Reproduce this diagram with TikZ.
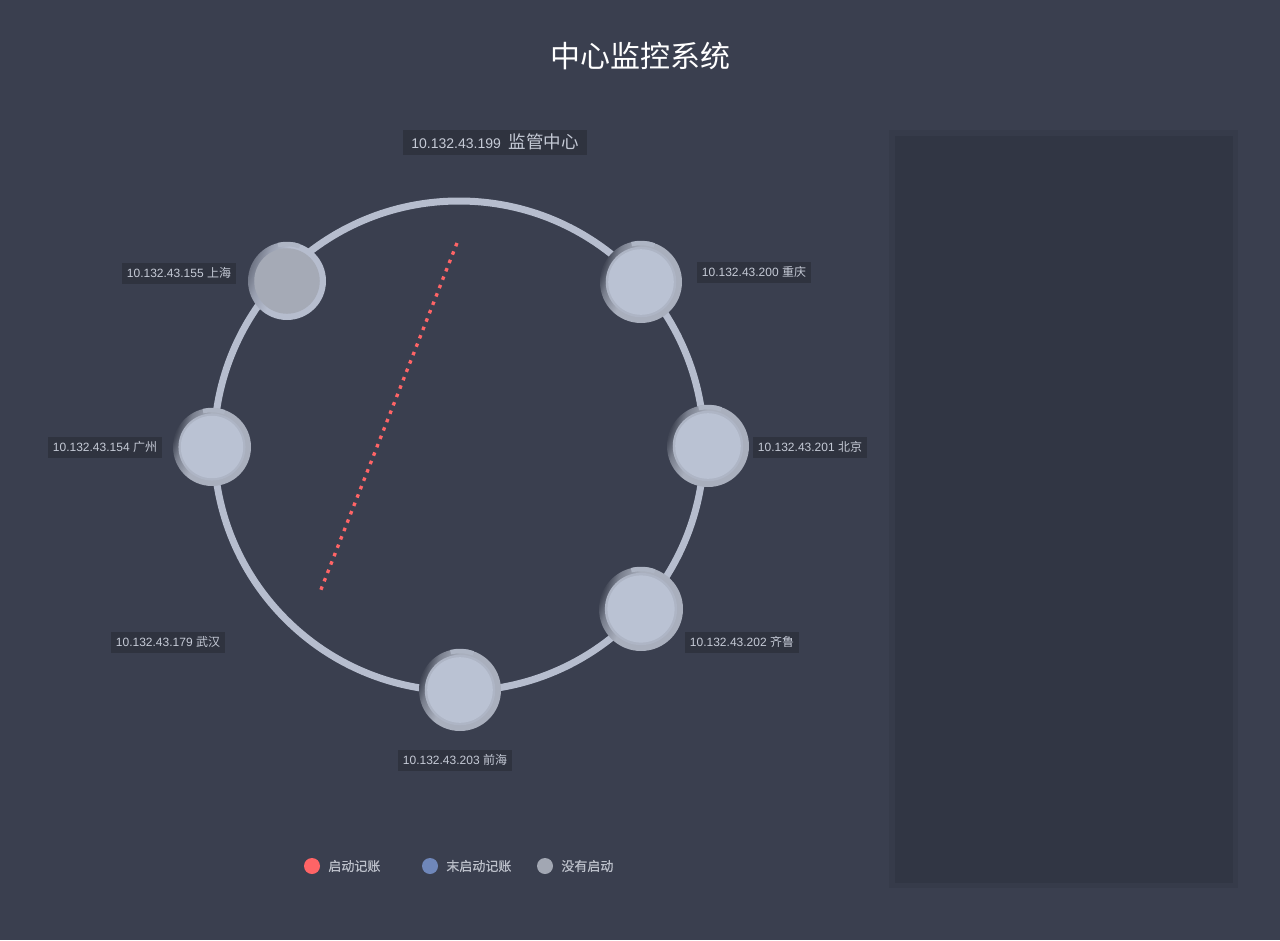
\documentclass[tikz,border=0pt]{standalone}
\usepackage{fontspec}
\usepackage{xcolor}
\usepackage{tikz}
\usetikzlibrary{positioning}
\setmainfont{Liberation Sans}
\newfontfamily\cjk{Noto Sans CJK SC}
\newfontfamily\cjkbold{Noto Sans CJK SC}[FakeBold=0.6]

\definecolor{bgcol}{HTML}{3A3F4F}
\definecolor{panelcol}{HTML}{313644}
\definecolor{panelrim}{HTML}{363B4A}
\definecolor{ringcol}{HTML}{B6BDCE}
\definecolor{corecol}{HTML}{BAC2D3}
\definecolor{coreedge}{HTML}{AEB5C5}
\definecolor{coregray}{HTML}{A5AAB6}
\definecolor{rimlight}{HTML}{A9AFBD}
\definecolor{rimdark}{HTML}{404554}
\definecolor{tagbg}{HTML}{2F333F}
\definecolor{tagtext}{HTML}{C5CAD6}
\definecolor{onred}{HTML}{FF6466}
\definecolor{offblue}{HTML}{6F87BA}
\definecolor{idlegray}{HTML}{A2A7B3}

\pgfdeclarehorizontalshading{rimshade}{100bp}{color(0bp)=(rimdark); color(25bp)=(rimdark);
  color(31bp)=(rimlight!55!rimdark); color(42bp)=(rimlight); color(100bp)=(rimlight)}
\pgfdeclarehorizontalshading{idleshade}{100bp}{color(0bp)=(rimdark!60!ringcol); color(25bp)=(rimdark!60!ringcol);
  color(33bp)=(ringcol!75!rimdark); color(44bp)=(ringcol); color(100bp)=(ringcol)}

\begin{document}
\begin{tikzpicture}[
  x=1pt, y=-1pt,
  ring/.style={draw=ringcol, line width=7pt},
  station/.style={circle, minimum size=#1, inner sep=0pt, shading=rimshade, shading angle=-20,
    path picture={\fill[coreedge] (path picture bounding box.center) circle (0.43*#1);
      \fill[corecol] (path picture bounding box.center) circle (0.40*#1);}},
  idle/.style={circle, minimum size=#1, inner sep=0pt, shading=idleshade, shading angle=-20,
    path picture={\fill[coregray] (path picture bounding box.center) circle (0.42*#1);}},
  iptag/.style={fill=tagbg, text=tagtext, font=\fontsize{12}{14}\selectfont,
    inner xsep=5pt, minimum height=21pt},
  legdot/.style={circle, minimum size=16pt, inner sep=0pt},
  legtext/.style={text=tagtext!85!gray, font=\cjkbold\fontsize{13}{15}\selectfont, inner sep=0pt}
]
\fill[bgcol] (0,0) rectangle (1280,940);
\useasboundingbox (0,0) rectangle (1280,940);

\node[text=white, font=\cjk\fontsize{30}{34}\selectfont] (title) at (640,56) {中心监控系统};

% right panel
\fill[panelrim] (889,130) rectangle (1238,888);
\fill[panelcol] (895,136) rectangle (1233,883);

\coordinate (hub) at (459,446);
\draw[ring] (hub) circle (245pt);

\node[idle=78pt] (sh) at (287,281) {};
\node[station=82pt] (cq) at (641,282) {};
\node[station=78pt] (gz) at (212,447) {};
\node[station=82pt] (bj) at (708,446) {};
\node[station=84pt] (ql) at (641,609) {};
\node[station=82pt] (qh) at (460,690) {};

% notches
\foreach \n/\r in {sh/37, cq/39, gz/37, bj/39, ql/40, qh/39}
  \draw[rimlight!60!ringcol, line width=4.5pt] (\n.center) ++(104:\r pt) arc[start angle=104, end angle=70, radius=\r pt];

\node[iptag, minimum height=25pt, inner xsep=8pt] (sup) at (495,142)
  {\fontsize{14}{16}\selectfont 10.132.43.199\ \ {\cjk\fontsize{17.5}{19}\selectfont 监管中心}};
\node[iptag] (shtag) at (179,273) {10.132.43.155 {\cjk 上海}};
\node[iptag] (cqtag) at (754,272) {10.132.43.200 {\cjk 重庆}};
\node[iptag] (gztag) at (105,447) {10.132.43.154 {\cjk 广州}};
\node[iptag] (bjtag) at (810,447) {10.132.43.201 {\cjk 北京}};
\node[iptag] (whtag) at (168,642) {10.132.43.179 {\cjk 武汉}};
\node[iptag] (qltag) at (742,642) {10.132.43.202 {\cjk 齐鲁}};
\node[iptag] (qhtag) at (455,760) {10.132.43.203 {\cjk 前海}};

% link
\coordinate (linka) at (457,243);
\coordinate (linkb) at (320,592);
\draw[onred, line width=3.3pt, dash pattern=on 3.5pt off 5.5pt] (linka) -- (linkb);

% legend
\node[legdot, fill=onred] (lon) at (312,866) {};
\node[legtext, right=8pt of lon] (lontext) {启动记账};
\node[legdot, fill=offblue] (loff) at (430,866) {};
\node[legtext, right=8pt of loff] (lofftext) {末启动记账};
\node[legdot, fill=idlegray] (lidle) at (545,866) {};
\node[legtext, right=8pt of lidle] (lidletext) {没有启动};
\end{tikzpicture}
\end{document}
